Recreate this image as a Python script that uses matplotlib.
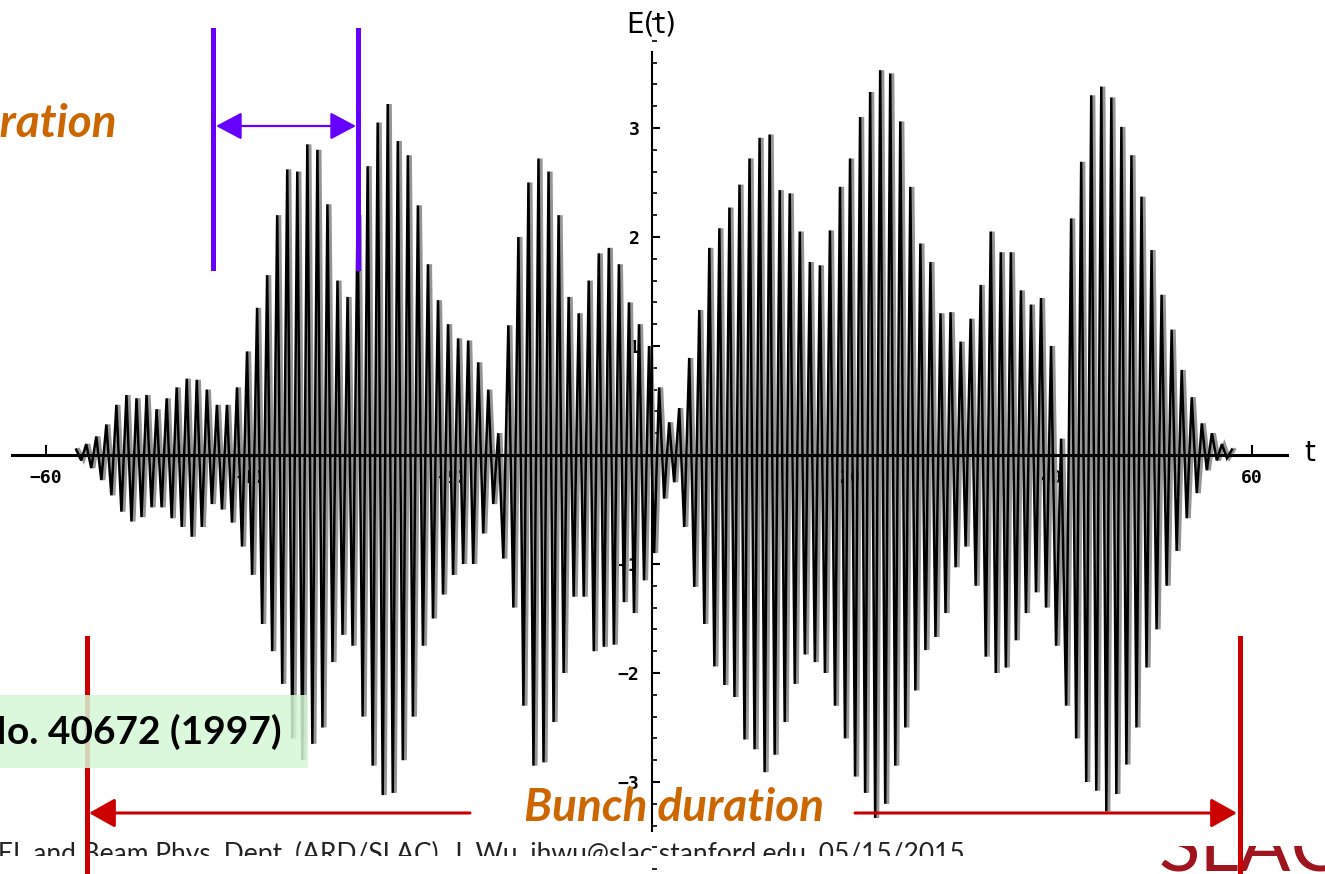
import matplotlib
matplotlib.use("Agg")
import matplotlib.pyplot as plt
import numpy as np
from matplotlib.lines import Line2D
from matplotlib.patches import Rectangle, FancyArrowPatch
from matplotlib.transforms import Bbox
from matplotlib.ticker import MultipleLocator

W, H = 1325, 874

# field peaks: one up-swing per unit of t, one down-swing half a unit later
t_first_up = -57.0
upper_peaks = [
    0.05, 0.10, 0.17, 0.28, 0.46, 0.55, 0.52, 0.55, 0.42, 0.52,
    0.62, 0.70, 0.69, 0.60, 0.46, 0.46, 0.62, 0.95, 1.35, 1.65,
    2.20, 2.62, 2.60, 2.85, 2.80, 2.30, 1.60, 1.45, 2.20, 2.65,
    3.05, 3.22, 2.88, 2.75, 2.29, 1.75, 1.42, 1.20, 1.07, 1.05,
    0.85, 0.60, 0.20, 1.19, 2.00, 2.50, 2.72, 2.60, 2.20, 1.45,
    1.30, 1.60, 1.85, 1.90, 1.75, 1.40, 1.20, 1.00, 0.62, 0.30,
    0.43, 0.89, 1.33, 1.90, 2.08, 2.27, 2.48, 2.72, 2.91, 2.94,
    2.43, 2.40, 2.05, 1.77, 1.74, 2.06, 2.46, 2.72, 3.10, 3.33,
    3.53, 3.50, 3.06, 2.46, 1.94, 1.77, 1.30, 1.31, 1.04, 1.25,
    1.56, 2.05, 1.86, 1.86, 1.51, 1.38, 1.44, 1.00, 0.15, 2.17,
    2.69, 3.30, 3.38, 3.28, 3.01, 2.75, 2.37, 1.88, 1.47, 1.15,
    0.78, 0.53, 0.29, 0.20, 0.10, 0.05,
]
lower_peaks = [
    -0.05, -0.12, -0.23, -0.37, -0.52, -0.61, -0.57, -0.48, -0.48, -0.58,
    -0.66, -0.75, -0.66, -0.45, -0.50, -0.62, -0.84, -1.10, -1.55, -1.80,
    -2.10, -2.60, -2.80, -2.65, -2.50, -1.90, -1.65, -1.75, -2.40, -2.85,
    -3.12, -3.10, -2.80, -2.40, -1.75, -1.50, -1.28, -1.10, -1.00, -1.00,
    -0.72, -0.45, -0.95, -1.40, -2.30, -2.85, -2.82, -2.45, -2.00, -1.30,
    -1.30, -1.80, -1.76, -1.74, -1.35, -1.45, -1.15, -0.90, -0.40, -0.25,
    -0.66, -1.21, -1.55, -1.94, -2.11, -2.22, -2.61, -2.70, -2.91, -2.75,
    -2.45, -2.10, -1.83, -1.90, -2.00, -2.30, -2.60, -2.95, -3.10, -3.33,
    -3.20, -2.85, -2.50, -2.16, -1.79, -1.67, -1.45, -1.03, -0.84, -1.20,
    -1.85, -2.00, -1.95, -1.70, -1.45, -1.26, -1.40, -1.75, -2.30, -2.60,
    -3.00, -3.08, -3.27, -3.11, -2.84, -2.50, -1.95, -1.60, -1.20, -0.88,
    -0.58, -0.35, -0.14, -0.05, -0.03,
]

x_ticks = [-60, -40, -20, 20, 40, 60]
x_tick_labels = ["\u221260", "\u221240", "\u221220", "20", "40", "60"]
y_ticks = [-3, -2, -1, 1, 2, 3]
y_tick_labels = ["\u22123", "\u22122", "\u22121", "1", "2", "3"]

ORANGE = "#CC6600"
RED = "#CC0000"
PURPLE = "#6600FF"


def fx(x):
    return x / W


def fy(y):
    return 1.0 - y / H


up = np.asarray(upper_peaks)
dn = np.asarray(lower_peaks)
t_up = t_first_up + np.arange(up.size)
t_dn = t_up[: dn.size] + 0.5
t_sig = np.empty(up.size + dn.size)
e_sig = np.empty_like(t_sig)
t_sig[0::2], e_sig[0::2] = t_up, up
t_sig[1::2], e_sig[1::2] = t_dn, dn

fig = plt.figure(figsize=(W / 100, H / 100), dpi=100)
ax = fig.add_axes([0, 0, 1, 1])
ax.set_xlim(-64.58, 67.26)
ax.set_ylim(-3.844, 4.174)
ax.patch.set_alpha(0)

# scanned trace: grey halftone shadow next to the black stroke
ax.plot(t_sig + 0.25, e_sig, color="#959595", lw=2.3, solid_joinstyle="miter")
ax.plot(t_sig, e_sig, color="black", lw=1.8, solid_joinstyle="miter")

for side in ("top", "right"):
    ax.spines[side].set_visible(False)
ax.spines["bottom"].set_position(("data", 0))
ax.spines["bottom"].set_bounds(-63.4, 63.5)
ax.spines["bottom"].set_linewidth(2.2)
ax.spines["left"].set_position(("data", 0.3))
ax.spines["left"].set_bounds(-3.45, 3.7)
ax.spines["left"].set_linewidth(1.5)

ax.set_xticks(x_ticks, x_tick_labels)
ax.set_yticks(y_ticks, y_tick_labels)
ax.yaxis.set_minor_locator(MultipleLocator(0.2))
ax.tick_params(axis="x", direction="in", length=7, width=1.5, pad=10,
               labelsize=13, labelfontfamily="DejaVu Sans Mono")
ax.tick_params(axis="y", which="major", direction="in", length=6, width=1.5, pad=9,
               labelsize=13, labelfontfamily="DejaVu Sans Mono")
ax.tick_params(axis="y", which="minor", direction="in", length=3.5, width=1.2)
for lab in ax.get_xticklabels() + ax.get_yticklabels():
    lab.set_fontweight("bold")

fig.text(fx(651), fy(24), "E(t)", ha="center", va="center", fontsize=20,
         family="DejaVu Sans")
fig.text(fx(1310), fy(453), "t", ha="center", va="center", fontsize=20,
         family="DejaVu Sans")

# coherence-length marker
for xv in (213, 358):
    fig.add_artist(Line2D([fx(xv), fx(xv)], [fy(30), fy(268)], transform=fig.transFigure,
                          color=PURPLE, lw=3.6, zorder=5))
fig.add_artist(FancyArrowPatch((fx(216), fy(126)), (fx(356), fy(126)),
                               transform=fig.transFigure,
                               arrowstyle="<|-|>,head_length=1.6,head_width=0.85",
                               mutation_scale=10, lw=1.6, color=PURPLE,
                               shrinkA=0, shrinkB=0, zorder=5))
fig.text(fx(117), fy(137), "duration", ha="right", va="baseline", fontsize=33,
         family="Lato", fontweight="bold", style="italic", color=ORANGE)

# bunch-length marker
for xv in (87, 1240):
    fig.add_artist(Line2D([fx(xv), fx(xv)], [fy(638), fy(874)], transform=fig.transFigure,
                          color=RED, lw=3.6, zorder=2))
fig.add_artist(FancyArrowPatch((fx(470), fy(813)), (fx(89), fy(813)),
                               transform=fig.transFigure,
                               arrowstyle="-|>,head_length=1.6,head_width=0.9",
                               mutation_scale=10, lw=2.2, color=RED,
                               shrinkA=0, shrinkB=0, zorder=5))
fig.add_artist(FancyArrowPatch((fx(855), fy(813)), (fx(1237), fy(813)),
                               transform=fig.transFigure,
                               arrowstyle="-|>,head_length=1.6,head_width=0.9",
                               mutation_scale=10, lw=2.2, color=RED,
                               shrinkA=0, shrinkB=0, zorder=5))
fig.text(fx(674), fy(821), "Bunch duration", ha="center", va="baseline", fontsize=33,
         family="Lato", fontweight="bold", style="italic", color=ORANGE, zorder=6)

# reference box
fig.add_artist(Rectangle((0, fy(768)), fx(308), (768 - 695) / H, transform=fig.transFigure,
                         facecolor="#D6F7D6", edgecolor="none", alpha=0.85, zorder=3))
fig.text(fx(282), fy(732), "No. 40672 (1997)", ha="right", va="center", fontsize=28,
         family="Lato", fontweight="bold", color="black", zorder=4)

# slide footer, partly hidden under the scanned figure
foot = fig.text(fx(965), fy(841), "FEL and Beam Phys. Dept. (ARD/SLAC), J. Wu, "
                "jhwu@slac.stanford.edu, 05/15/2015", ha="right", va="top", fontsize=19,
                family="Lato", color="#222222", zorder=1)
foot.set_clip_on(True)
foot.set_clip_box(Bbox.from_extents(0, 18, W, H))
logo = fig.text(fx(1158), fy(871), "SLAC", ha="left", va="baseline", fontsize=55,
                family="Lato", fontweight="normal", color="#A0141E", zorder=1)
logo.set_clip_on(True)
logo.set_clip_box(Bbox.from_extents(0, 0, W, 28))

fig.savefig("out.png", dpi=100)
